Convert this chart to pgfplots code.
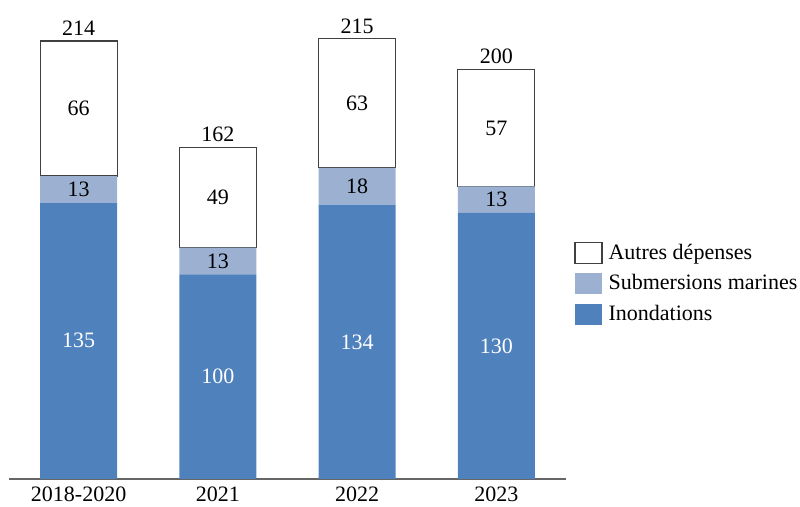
\documentclass[border=0pt]{standalone}
\usepackage{fontspec}
\setmainfont{Liberation Serif}
\usepackage{pgfplots}
\pgfplotsset{compat=1.18}
\definecolor{inond}{HTML}{4F81BD}
\definecolor{subm}{HTML}{9CB1D2}
\definecolor{edge}{HTML}{404040}
\pgfplotsset{
  myleg/.style={legend image code/.code={\draw[##1] (0pt,-5.25pt) rectangle (13.5pt,5.25pt);}},
  mylegnb/.style={legend image code/.code={\path[##1, draw=none] (0pt,-5.25pt) rectangle (13.5pt,5.25pt);}},
  frame/.style={at={(0,0)}, anchor=south west,
    x=69.625pt, y=1.0235pt,
    xmin=-0.5, xmax=3.5, ymin=0, ymax=230},
}
\newcommand\lab{\fontsize{11}{13}\selectfont}
\begin{document}
\begin{tikzpicture}
\path[use as bounding box] (-4.5pt,-14pt) rectangle (395.5pt,239.5pt);
\begin{axis}[
  frame,
  ybar stacked, bar width=38.5pt,
  axis x line=bottom, axis y line=none,
  x axis line style={-, draw=black!60, line width=0.6pt},
  xtick={0,1,2,3},
  xticklabels={2018-2020,2021,2022,2023},
  xtick style={draw=none},
  ytick=\empty,
  tick label style={font=\lab},
  xticklabel style={yshift=1.5pt},
  legend style={at={(1.0,0.517)}, anchor=north west, draw=none, fill=none,
    font=\lab, row sep=2.2pt, xshift=1pt,
    /tikz/every odd column/.append style={column sep=1pt}},
  legend cell align=left,
  reverse legend,
]
\addplot[fill=inond, draw=none, mylegnb,
  visualization depends on={rawy \as \rawy},
  nodes near coords={\pgfmathprintnumber[assume math mode=true,fixed,precision=0]{\rawy}},
  nodes near coords style={font=\lab, text=white, anchor=center}]
  coordinates {(0,135) (1,100) (2,134) (3,130)};
\addlegendentry{Inondations}
\addplot[fill=subm, draw=none, mylegnb,
  visualization depends on={rawy \as \rawy},
  nodes near coords={\pgfmathprintnumber[assume math mode=true,fixed,precision=0]{\rawy}},
  nodes near coords style={font=\lab, text=black, anchor=center}]
  coordinates {(0,13) (1,13) (2,18) (3,13)};
\addlegendentry{Submersions marines}
\addplot[fill=white, draw=edge, line width=0.6pt, myleg,
  visualization depends on={rawy \as \rawy},
  nodes near coords={\pgfmathprintnumber[assume math mode=true,fixed,precision=0]{\rawy}},
  nodes near coords style={font=\lab, text=black, anchor=center}]
  coordinates {(0,66) (1,49) (2,63) (3,57)};
\addlegendentry{Autres dépenses}
\end{axis}
\begin{axis}[frame, hide axis]
\addplot[only marks, mark=none,
  nodes near coords={\pgfmathprintnumber[assume math mode=true,fixed,precision=0]{\pgfplotspointmeta}},
  point meta=y,
  nodes near coords style={font=\lab, text=black, anchor=south, inner sep=2.5pt}]
  coordinates {(0,214) (1,162) (2,215) (3,200)};
\end{axis}
\end{tikzpicture}
\end{document}
